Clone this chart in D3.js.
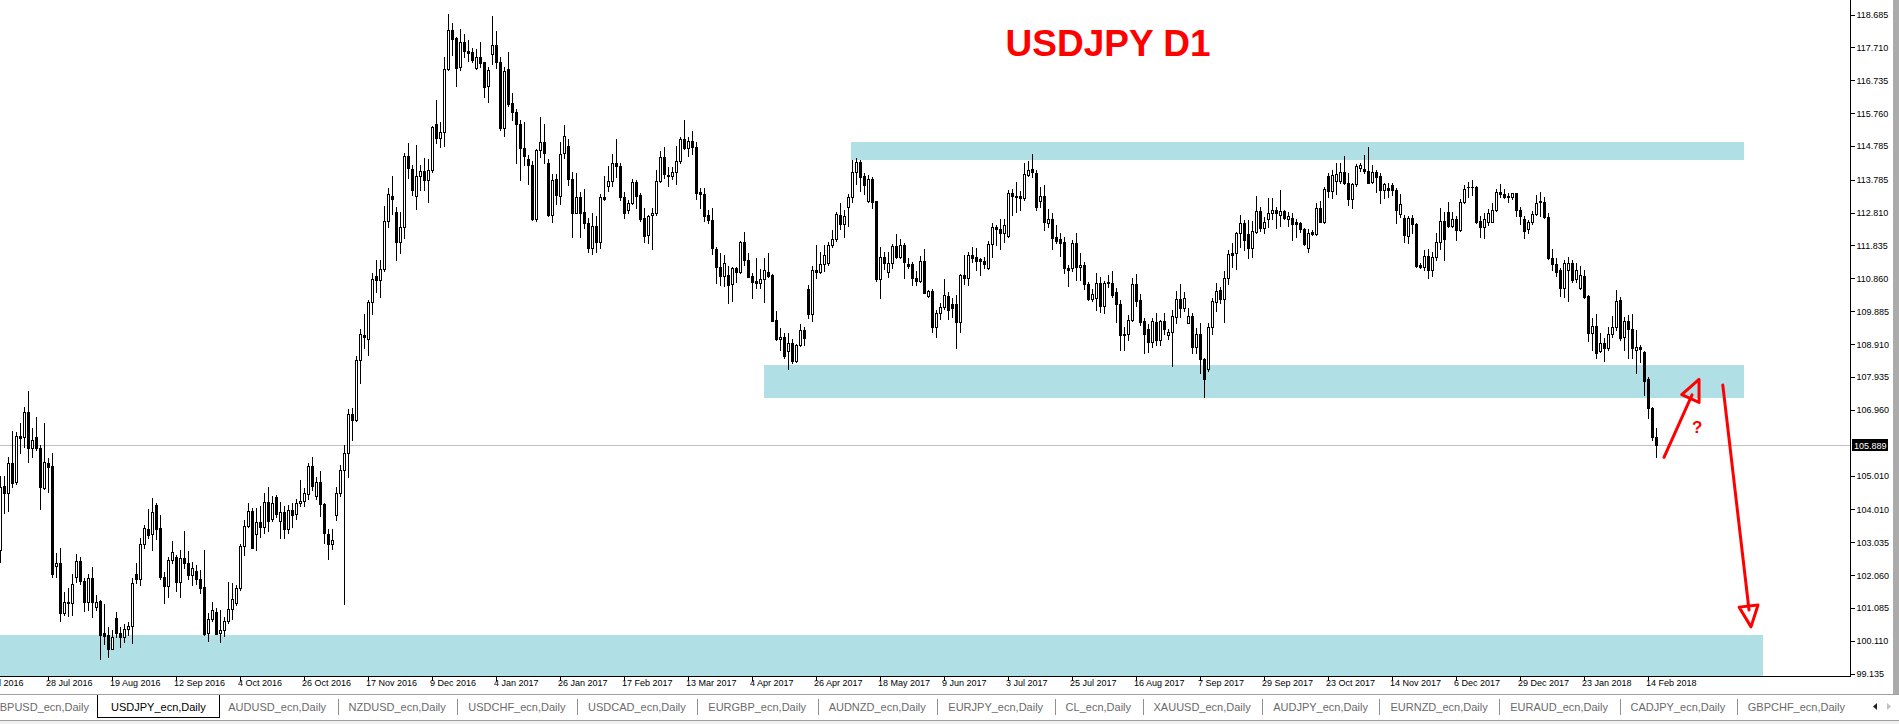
<!DOCTYPE html>
<html><head><meta charset="utf-8">
<script src="https://cdn.jsdelivr.net/npm/d3@7/dist/d3.min.js"></script>
<style>
html,body{margin:0;padding:0;background:#fff;overflow:hidden;}
svg{display:block;}
text{font-family:"Liberation Sans",Arial,sans-serif;}
</style></head><body>
<svg id="c" width="1899" height="724"></svg>
<script>
// ---- DATA (USDJPY daily) ----
const open = [102.79,104.69,104.47,105.36,104.80,106.17,106.13,106.87,105.81,106.13,105.81,104.62,105.38,105.27,102.31,102.39,100.91,101.25,101.21,101.98,
102.45,101.88,101.26,101.95,101.11,101.29,100.32,100.26,99.86,100.77,100.32,100.22,100.44,100.53,102.08,101.92,102.97,103.40,103.25,104.12,
103.43,102.00,101.73,102.49,102.57,101.85,102.54,102.41,102.06,102.16,101.92,101.68,100.34,100.74,100.94,100.32,100.41,100.67,101.03,101.23,
101.65,102.90,103.50,103.94,103.25,103.61,103.48,104.20,103.70,104.36,103.66,103.91,103.42,103.97,103.85,104.17,104.23,104.45,105.27,104.39,
104.81,104.15,103.27,102.96,103.82,104.48,105.15,105.66,106.81,106.65,108.41,109.17,109.05,110.14,110.92,110.81,111.13,112.54,113.28,112.80,
111.93,112.38,114.46,114.08,113.29,113.87,114.02,113.75,114.05,115.41,115.02,115.19,117.04,118.22,117.97,117.10,117.85,117.59,117.55,117.07,
117.41,117.26,116.56,117.49,117.77,117.26,115.31,117.04,116.05,115.79,115.43,114.71,114.38,114.22,112.60,114.64,114.89,114.28,112.71,113.80,
113.30,114.55,114.77,113.78,112.79,113.25,112.80,112.48,111.74,112.40,111.93,113.25,113.57,113.73,114.26,114.18,113.25,112.87,113.09,113.70,
113.32,112.65,112.13,112.71,112.77,113.73,114.44,113.91,113.89,113.99,114.33,114.97,114.70,114.92,114.73,113.41,113.34,112.73,112.58,111.71,
111.19,110.93,110.95,110.67,111.14,111.02,111.91,111.39,110.92,110.77,110.70,110.83,111.04,110.95,109.61,109.04,109.10,108.70,108.92,108.40,
108.86,109.31,110.53,109.78,111.09,111.04,111.27,111.30,111.82,112.00,112.72,112.46,112.95,113.25,113.99,114.29,113.88,113.15,113.78,113.14,
110.83,111.47,111.02,111.29,111.81,111.49,111.84,111.27,111.26,110.85,110.78,111.36,110.33,110.46,109.39,109.83,109.99,110.33,110.09,110.09,
109.56,110.95,110.87,111.53,111.47,111.41,111.37,111.16,111.86,112.36,112.31,112.18,112.11,113.39,113.30,113.29,113.22,113.91,114.08,113.98,
113.15,113.29,112.48,112.62,112.08,112.01,111.91,111.14,111.14,111.88,111.17,111.24,110.68,110.23,110.25,110.72,110.04,110.75,110.71,110.45,
110.08,109.17,109.19,109.61,110.68,110.20,109.58,109.34,108.97,109.56,109.02,109.58,109.17,109.24,109.71,110.22,109.97,109.53,109.73,108.80,
109.21,108.44,108.17,109.39,110.13,110.50,110.22,110.87,111.59,111.59,112.20,112.48,112.15,111.74,112.23,112.84,112.33,112.62,112.77,112.87,
112.72,112.84,112.60,112.64,112.53,112.48,112.30,111.76,112.21,112.16,112.92,112.53,113.88,113.44,113.74,113.74,113.99,113.66,113.19,113.64,
114.11,114.08,114.04,113.69,113.99,113.88,113.46,113.52,113.61,113.46,112.74,112.63,112.11,112.63,112.45,111.24,111.19,111.51,111.09,111.47,
111.91,112.55,112.80,112.41,112.61,112.28,113.10,113.54,113.54,113.56,112.55,112.38,112.51,112.53,112.87,113.40,113.35,113.27,113.25,113.37,
112.87,112.60,112.30,112.51,112.75,113.14,113.10,112.66,111.44,111.27,111.09,110.55,111.09,111.29,110.82,110.55,110.92,110.32,109.22,109.43,
108.70,108.94,108.77,109.20,109.41,110.20,109.10,109.58,109.33,108.72,108.80,108.65,107.85,107.01,106.13];
const high = [104.97,104.98,105.54,106.32,106.28,106.55,107.03,107.51,106.40,106.73,105.89,106.55,105.51,105.66,102.70,102.84,101.54,101.65,102.07,102.66,
102.59,101.97,102.08,102.29,101.46,101.32,101.19,100.51,100.41,100.95,100.50,100.60,100.64,101.95,102.40,103.14,103.52,104.01,104.33,104.17,
103.82,102.15,102.59,103.06,102.63,102.79,103.34,102.76,102.43,102.34,102.20,102.79,100.93,101.24,101.06,101.01,100.81,101.84,101.80,101.75,
102.97,103.68,104.17,104.05,104.03,104.08,104.49,104.65,104.39,104.42,104.21,104.09,104.11,104.19,104.31,104.87,104.63,105.36,105.54,104.94,
105.12,104.19,103.42,103.42,104.67,105.32,105.90,106.97,106.99,108.54,109.34,109.78,110.19,111.01,111.38,111.38,112.99,113.53,113.89,112.96,
112.80,114.56,114.86,114.22,114.80,114.20,114.40,114.38,115.37,116.13,115.49,117.41,118.68,118.43,118.01,118.25,118.10,117.91,117.67,117.65,
117.85,117.26,117.10,118.62,118.19,117.41,117.10,117.56,116.34,115.86,115.53,115.47,114.50,114.32,114.68,115.63,115.41,114.38,113.95,113.95,
114.90,115.39,114.97,114.01,113.96,113.42,113.49,112.63,112.77,112.68,113.35,113.88,114.18,114.53,114.97,114.26,113.42,113.17,113.78,113.76,
113.37,112.92,112.73,112.92,114.06,114.62,114.75,114.16,114.16,114.78,115.05,115.54,115.05,115.22,114.90,113.52,113.52,112.87,112.92,111.79,
111.59,111.54,111.21,111.19,111.19,111.96,112.23,111.59,111.00,111.46,111.12,111.46,111.59,110.97,109.89,109.36,109.22,109.22,109.04,108.90,
109.48,109.41,110.65,111.22,111.82,111.64,111.82,111.93,112.28,112.82,113.07,112.87,113.35,114.36,114.41,114.37,113.96,113.91,113.86,113.14,
111.77,111.64,111.62,111.86,112.15,112.00,111.88,111.44,111.34,111.05,111.51,111.71,110.50,110.53,109.91,110.10,110.83,110.45,110.25,110.35,
110.98,111.54,111.64,111.79,111.74,111.46,111.49,111.95,112.48,112.43,112.62,112.62,113.47,113.49,113.69,113.44,114.26,114.33,114.52,114.06,
113.56,113.61,112.89,112.77,112.43,112.18,112.08,111.24,111.98,112.20,111.59,111.34,110.75,110.52,110.99,110.90,110.78,110.95,111.06,110.55,
110.20,109.41,109.76,110.85,110.97,110.38,109.66,109.48,109.66,109.81,109.61,109.83,109.33,109.91,110.47,110.67,110.45,109.96,109.81,109.38,
109.51,108.47,109.53,110.27,110.72,110.60,111.06,111.69,111.88,112.23,112.72,112.58,112.58,112.56,113.29,112.97,112.67,113.22,113.22,112.97,
113.47,112.87,112.82,112.77,112.60,112.53,112.33,112.30,112.28,113.07,113.14,113.56,113.96,114.06,114.26,114.28,114.47,113.96,113.68,114.24,
114.26,114.50,114.75,114.21,114.06,113.96,113.68,113.68,113.66,113.52,113.34,112.72,112.68,112.72,112.48,111.29,111.69,111.71,111.64,112.18,
112.92,112.82,113.10,112.82,112.68,113.19,113.61,113.71,113.76,113.58,112.68,112.77,112.89,113.09,113.49,113.63,113.49,113.37,113.39,113.39,
112.97,112.68,112.58,112.85,113.32,113.40,113.27,112.77,111.72,111.44,111.14,111.39,111.49,111.39,111.29,111.22,111.09,110.35,109.66,109.78,
109.22,109.07,109.41,109.74,110.50,110.30,109.71,109.76,109.79,109.31,108.87,108.69,107.93,107.04,106.40];
const low = [102.44,103.90,103.96,104.65,104.75,105.66,105.84,105.41,105.56,105.75,104.00,104.60,104.50,101.98,102.00,100.67,100.86,100.84,100.86,101.85,
101.78,100.98,101.01,100.81,101.01,99.55,100.00,99.63,99.84,100.22,99.92,100.07,100.27,100.04,101.80,101.74,102.86,103.14,102.79,103.13,
101.92,101.21,101.41,102.39,101.56,101.41,102.25,101.92,101.74,101.78,101.52,100.27,100.10,100.67,100.29,100.07,100.25,100.62,100.73,101.16,
101.60,102.64,103.48,102.84,102.79,103.17,103.28,103.34,103.66,103.78,103.14,103.14,103.30,103.48,103.70,104.09,104.09,104.31,104.57,104.31,
103.79,103.00,102.51,102.82,103.69,104.39,101.18,104.96,106.05,106.62,107.74,108.79,108.57,109.80,110.44,110.29,111.05,112.38,112.74,111.38,
111.59,112.05,113.82,113.31,112.89,113.47,113.47,113.11,114.01,114.86,114.74,114.77,117.01,117.47,116.56,117.02,117.41,117.28,117.26,117.04,
117.10,116.23,116.07,117.20,117.07,115.25,115.08,115.95,115.53,114.26,113.77,114.20,113.65,112.59,112.56,114.44,114.26,112.68,112.53,113.05,
113.05,114.41,113.61,112.08,112.77,112.06,112.33,111.64,111.57,111.64,111.74,113.17,113.45,113.59,113.86,113.17,112.63,112.79,113.05,112.92,
112.56,111.93,111.90,111.71,112.73,113.69,113.81,113.57,113.78,113.64,114.26,114.67,114.47,114.52,113.19,112.92,112.56,112.48,111.57,110.72,
110.65,110.63,110.11,110.17,110.73,111.00,111.24,110.88,110.27,110.57,110.57,110.14,110.90,109.57,109.02,108.72,108.47,108.15,108.33,108.37,
108.84,108.87,109.66,109.59,110.85,111.01,111.07,111.24,111.79,111.96,112.30,112.08,112.40,113.12,113.63,113.44,113.34,113.12,112.94,110.78,
110.25,111.11,110.90,111.16,111.46,111.46,110.87,111.14,110.65,110.65,110.75,110.40,110.30,109.25,109.12,109.63,109.94,109.63,109.71,108.79,
109.26,110.68,110.65,111.34,111.09,110.95,111.16,111.12,111.47,111.84,111.72,111.91,112.08,112.72,112.82,112.87,113.17,113.89,113.86,112.87,
112.95,112.28,112.36,111.71,111.88,111.52,111.01,110.62,111.07,110.80,110.80,110.52,110.20,110.18,109.91,109.86,109.83,110.60,110.30,109.56,
108.72,108.72,109.02,109.59,110.04,109.46,108.62,108.65,108.82,108.87,108.87,109.19,109.04,108.26,109.53,109.71,109.89,109.51,108.62,108.62,
108.05,107.32,108.11,109.21,109.89,110.10,109.56,110.68,111.19,111.11,111.78,111.69,111.46,111.49,112.20,112.25,112.20,112.36,112.60,112.33,
112.40,112.60,112.40,111.98,112.08,112.23,111.83,111.64,112.13,112.13,112.51,112.48,113.25,113.24,113.34,113.68,113.64,113.02,112.92,113.58,
114.04,113.98,113.66,113.68,113.40,113.09,113.24,113.27,113.32,112.48,112.67,111.93,111.90,112.18,111.19,111.16,111.09,110.85,110.92,111.39,
111.72,111.39,112.38,112.36,111.98,112.25,113.07,113.27,113.32,112.48,112.08,112.03,112.43,112.51,112.84,113.27,113.24,113.12,113.19,112.68,
112.46,112.05,112.18,112.46,112.72,112.68,112.63,111.41,111.09,110.92,110.32,110.30,110.18,110.75,110.75,110.52,110.25,109.00,108.72,108.47,
108.67,108.40,108.72,109.12,109.31,109.02,108.72,108.47,108.47,108.05,108.37,107.39,106.69,106.05,105.54];
const close = [104.67,104.47,105.36,104.77,106.17,106.12,106.87,105.81,106.05,105.81,104.65,105.39,105.26,102.07,102.39,100.91,101.24,101.21,101.77,102.45,
101.88,101.26,101.95,101.26,101.24,100.27,100.25,99.86,100.21,100.32,100.22,100.44,100.53,101.80,101.92,102.97,103.43,103.22,103.91,103.42,
102.00,101.73,102.49,102.72,101.85,102.54,102.41,102.06,102.25,101.92,101.67,100.30,100.74,101.00,100.30,100.41,100.67,101.03,101.33,101.65,
102.90,103.50,103.94,102.86,103.61,103.48,104.20,103.66,104.17,103.87,103.91,103.42,103.97,103.82,104.19,104.23,104.48,105.27,104.69,104.81,
104.15,103.30,102.96,103.08,104.48,105.15,105.66,106.81,106.65,108.41,109.20,109.10,110.14,110.83,110.81,111.13,112.54,113.34,113.20,111.93,
112.38,114.46,114.11,113.47,113.87,114.02,113.75,114.05,115.32,115.02,115.19,117.04,118.22,117.93,117.08,117.85,117.59,117.53,117.31,117.41,
117.22,116.53,117.02,117.77,117.25,115.31,116.98,116.01,115.77,115.41,114.71,114.46,114.20,112.60,114.64,114.89,114.56,112.71,113.77,113.31,
114.52,115.07,113.78,112.79,113.25,112.79,112.50,111.74,112.40,111.93,113.25,113.19,113.73,114.26,114.18,113.25,112.77,113.09,113.70,113.30,
112.61,112.11,112.68,112.77,113.73,114.44,113.94,113.87,113.99,114.33,114.97,114.72,114.92,114.73,113.37,113.34,112.68,112.57,111.74,111.17,
110.93,111.29,110.65,111.14,111.04,111.93,111.39,110.90,110.75,110.70,110.83,111.08,110.93,109.59,109.04,109.12,108.54,108.93,108.40,108.86,
109.31,109.07,109.78,111.09,111.04,111.27,111.54,111.84,112.01,112.75,112.46,112.70,113.25,113.99,114.29,113.86,113.61,113.78,113.12,110.83,
111.47,111.29,111.29,111.81,111.49,111.84,111.32,111.22,110.85,110.78,111.36,110.42,110.46,109.41,109.83,109.99,110.35,109.91,109.96,109.56,
110.95,110.87,111.53,111.46,111.37,111.36,111.28,111.86,112.36,112.30,112.18,112.43,113.39,113.29,113.27,113.22,113.94,114.06,113.99,112.97,
113.29,112.53,112.62,112.05,111.96,111.90,111.14,111.09,111.88,111.17,111.24,110.68,110.23,110.37,110.72,110.04,110.70,110.71,110.35,110.08,
109.17,109.21,109.61,110.68,110.18,109.56,109.21,108.97,109.58,109.02,109.58,109.33,109.24,109.73,110.22,109.97,110.25,109.73,108.80,109.21,
108.44,107.85,109.39,110.17,110.48,110.22,110.87,111.57,111.54,112.20,112.48,111.99,111.74,112.25,112.84,112.33,112.53,112.77,112.87,112.77,
112.84,112.64,112.69,112.45,112.46,112.30,111.85,112.18,112.16,112.92,112.53,113.51,113.45,113.91,113.93,113.99,113.66,113.19,113.64,114.19,
114.21,114.04,113.68,113.99,113.86,113.48,113.63,113.46,113.46,112.87,113.04,112.13,112.63,112.45,111.22,111.19,111.51,111.09,111.47,111.91,
112.55,112.00,112.41,112.61,112.28,113.12,113.50,113.56,113.56,112.51,112.38,112.60,112.77,112.87,113.40,113.34,113.27,113.29,113.37,112.87,
112.68,112.26,112.51,112.75,113.07,113.10,112.66,111.44,111.27,111.02,110.55,111.29,111.29,110.80,111.09,110.95,110.28,109.22,109.43,108.64,
108.94,108.77,109.20,109.39,110.16,109.07,109.58,109.33,108.77,108.80,108.74,107.81,106.99,106.13,105.889];

// time-axis labels; one label every 16 bars, the first one is cut by the left edge
const dateLabels = ["6 Jul 2016","28 Jul 2016","19 Aug 2016","12 Sep 2016","4 Oct 2016","26 Oct 2016","17 Nov 2016","9 Dec 2016",
"4 Jan 2017","26 Jan 2017","17 Feb 2017","13 Mar 2017","4 Apr 2017","26 Apr 2017","18 May 2017","9 Jun 2017","3 Jul 2017",
"25 Jul 2017","16 Aug 2017","7 Sep 2017","29 Sep 2017","23 Oct 2017","14 Nov 2017","6 Dec 2017","29 Dec 2017","23 Jan 2018","14 Feb 2018"];
const dateLabelBar = dateLabels.map((d,i)=> -4 + 16*i);

// price-axis labels
const priceTicks = [118.685,117.710,116.735,115.760,114.785,113.785,112.810,111.835,110.860,109.885,108.910,107.935,106.960,
105.010,104.010,103.035,102.060,101.085,100.110,99.135];
const lastPrice = 105.889;

// support / resistance zones [fromBar, toBar, priceTop, priceBottom]
const zones = [[212.75,436,114.89,114.36],[191,436,108.28,107.31],[-2,440.75,100.26,98.0]];

// hand drawn arrows [fromBar, fromPrice, toBar, toPrice]
const arrows = [[416,105.54,424.75,107.85],[430.7,107.68,437.75,100.51]];
const questionMark = [424.3, 106.45];

const tabs = ["GBPUSD_ecn,Daily","USDJPY_ecn,Daily","AUDUSD_ecn,Daily","NZDUSD_ecn,Daily","USDCHF_ecn,Daily","USDCAD_ecn,Daily",
"EURGBP_ecn,Daily","AUDNZD_ecn,Daily","EURJPY_ecn,Daily","CL_ecn,Daily","XAUUSD_ecn,Daily","AUDJPY_ecn,Daily","EURNZD_ecn,Daily",
"EURAUD_ecn,Daily","CADJPY_ecn,Daily","GBPCHF_ecn,Daily"];
const activeTab = 1;

// ---- DRAW ----
const svg = d3.select("#c");
const PR = 1850, PB = 676;
const x = d3.scaleLinear().domain([0, 462.5]).range([0, PR]);
const y = d3.scaleLinear().domain([118.685, 99.135]).range([14, 673.25]);
const R = Math.round;

const plot = svg.append("g").attr("shape-rendering","crispEdges");
plot.append("clipPath").attr("id","clip").append("rect").attr("x",0).attr("y",0).attr("width",PR).attr("height",PB);
const pg = plot.append("g").attr("clip-path","url(#clip)");

// zones
pg.selectAll("rect.zone").data(zones).join("rect").attr("class","zone")
  .attr("x", d=>x(d[0])).attr("width", d=>x(d[1])-x(d[0]))
  .attr("y", d=>R(y(d[2]))).attr("height", d=>R(y(d[3]))-R(y(d[2])))
  .attr("fill","#b0e0e6");

// last price line
pg.append("line").attr("x1",0).attr("x2",PR).attr("y1",R(y(lastPrice))+0.5).attr("y2",R(y(lastPrice))+0.5)
  .attr("stroke","#c0c0c0").attr("stroke-width",1);

// candles
const bars = d3.range(close.length);
const cg = pg.append("g");
bars.forEach(i=>{
  const cx = R(x(i));
  const yh = R(y(high[i])), yl = R(y(low[i]));
  cg.append("rect").attr("x",cx).attr("y",yh).attr("width",1).attr("height",Math.max(1,yl-yh+1)).attr("fill","#000");
  const yo = R(y(open[i])), yc = R(y(close[i]));
  const top = Math.min(yo,yc), bot = Math.max(yo,yc);
  if (close[i] > open[i] && bot-top >= 2) {
    cg.append("rect").attr("x",cx-0.5).attr("y",top+0.5).attr("width",2).attr("height",bot-top)
      .attr("fill","#fff").attr("stroke","#000").attr("stroke-width",1).attr("shape-rendering","auto");
  } else {
    cg.append("rect").attr("x",cx-1).attr("y",top).attr("width",3).attr("height",Math.max(1,bot-top+1)).attr("fill","#000");
  }
});

// axes frame
plot.append("line").attr("x1",PR+0.5).attr("x2",PR+0.5).attr("y1",0).attr("y2",PB+1).attr("stroke","#000");
plot.append("line").attr("x1",0).attr("x2",PR+1).attr("y1",PB+0.5).attr("y2",PB+0.5).attr("stroke","#000");

// price axis
const yAxis = d3.axisRight(y).tickValues(priceTicks).tickFormat(d3.format(".3f")).tickSize(4).tickPadding(2);
const ya = svg.append("g").attr("transform",`translate(${PR+0.5},0.5)`).call(yAxis);
ya.select(".domain").remove();
ya.selectAll("line").attr("stroke","#000").attr("shape-rendering","crispEdges");
ya.selectAll("text").attr("font-size",9).attr("font-family","Liberation Sans, Arial, sans-serif").attr("fill","#000");

// last price box
const ly = R(y(lastPrice));
svg.append("rect").attr("x",PR+2).attr("y",ly-6).attr("width",36).attr("height",12).attr("fill","#000").attr("shape-rendering","crispEdges");
svg.append("text").attr("x",PR+4).attr("y",ly+0.5).attr("dy","0.35em").attr("font-size",9).attr("fill","#fff").text(d3.format(".3f")(lastPrice));

// time axis
const tg = svg.append("g").attr("shape-rendering","crispEdges");
dateLabels.forEach((lab,k)=>{
  const tx = R(x(dateLabelBar[k]));
  tg.append("line").attr("x1",tx+0.5).attr("x2",tx+0.5).attr("y1",PB+1).attr("y2",PB+5).attr("stroke","#000");
  tg.append("text").attr("x",tx-2).attr("y",PB+10).attr("font-size",9).attr("fill","#000").text(lab);
});

// title
svg.append("text").attr("x",1108).attr("y",56).attr("text-anchor","middle").attr("font-size",37).attr("font-weight","bold")
  .attr("fill","#ff0000").text("USDJPY D1");

// arrows
const ag = svg.append("g").attr("stroke","#ff0000").attr("stroke-width",3).attr("fill","none").attr("stroke-linejoin","round").attr("stroke-linecap","round");
arrows.forEach(a=>{
  const x1=x(a[0]), y1=y(a[1]), x2=x(a[2]), y2=y(a[3]);
  const dx=x2-x1, dy=y2-y1, L=Math.hypot(dx,dy), ux=dx/L, uy=dy/L;
  const hl=21, hw=9.5;
  const bx=x2-hl*ux, by=y2-hl*uy;
  ag.append("line").attr("x1",x1).attr("y1",y1).attr("x2",bx+4*ux).attr("y2",by+4*uy);
  ag.append("polygon").attr("points",[[x2,y2],[bx-hw*uy,by+hw*ux],[bx+hw*uy,by-hw*ux]].map(p=>p.join(",")).join(" "));
});
svg.append("text").attr("x",x(questionMark[0])).attr("y",y(questionMark[1])).attr("text-anchor","middle").attr("dy","0.35em")
  .attr("font-size",17).attr("font-weight","bold").attr("fill","#ff0000").text("?");

// right scrollbar strip
svg.append("rect").attr("x",1893).attr("y",0).attr("width",6).attr("height",694).attr("fill","#ababab");

// tab bar
const tb = svg.append("g");
tb.append("rect").attr("x",0).attr("y",694).attr("width",1899).attr("height",30).attr("fill","#ffffff");
tb.append("line").attr("x1",0).attr("x2",1899).attr("y1",694.5).attr("y2",694.5).attr("stroke","#a0a0a0").attr("shape-rendering","crispEdges");
tb.append("rect").attr("x",0).attr("y",720).attr("width",1899).attr("height",4).attr("fill","#f0f0f0");
tb.append("line").attr("x1",0).attr("x2",1899).attr("y1",720.5).attr("y2",720.5).attr("stroke","#a0a0a0").attr("shape-rendering","crispEdges");
// measure
const meas = tb.append("text").attr("font-size",11).attr("x",-1000).attr("y",-1000);
const widths = tabs.map(t=>{ meas.text(t); return meas.node().getComputedTextLength(); });
meas.remove();
const starts = [];
starts[1] = 111;
starts[0] = starts[1] - 22 - widths[0];
for (let i=2;i<tabs.length;i++) starts[i] = starts[i-1] + widths[i-1] + 22.5;
tabs.forEach((t,i)=>{
  if (i===activeTab) {
    const bx0 = starts[i]-14, bx1 = starts[i]+widths[i]+13;
    tb.append("path").attr("d",`M${bx0+0.5},695 V717.5 H${bx1+0.5} V695`).attr("fill","#fff").attr("stroke","#000").attr("shape-rendering","crispEdges");
  } else if (i>activeTab+1) {
    tb.append("line").attr("x1",R(starts[i]-11)+0.5).attr("x2",R(starts[i]-11)+0.5).attr("y1",699).attr("y2",715)
      .attr("stroke","#909090").attr("shape-rendering","crispEdges");
  }
  tb.append("text").attr("x",starts[i]).attr("y",711).attr("font-size",11)
    .attr("fill", i===activeTab ? "#000" : "#6a6a6a").text(t);
});
// scroll arrows
tb.append("path").attr("d","M1877,703 L1873,706.5 L1877,710 Z").attr("fill","#202020");
tb.append("path").attr("d","M1887,703 L1891,706.5 L1887,710 Z").attr("fill","#c0c0c0");
</script>
</body></html>
